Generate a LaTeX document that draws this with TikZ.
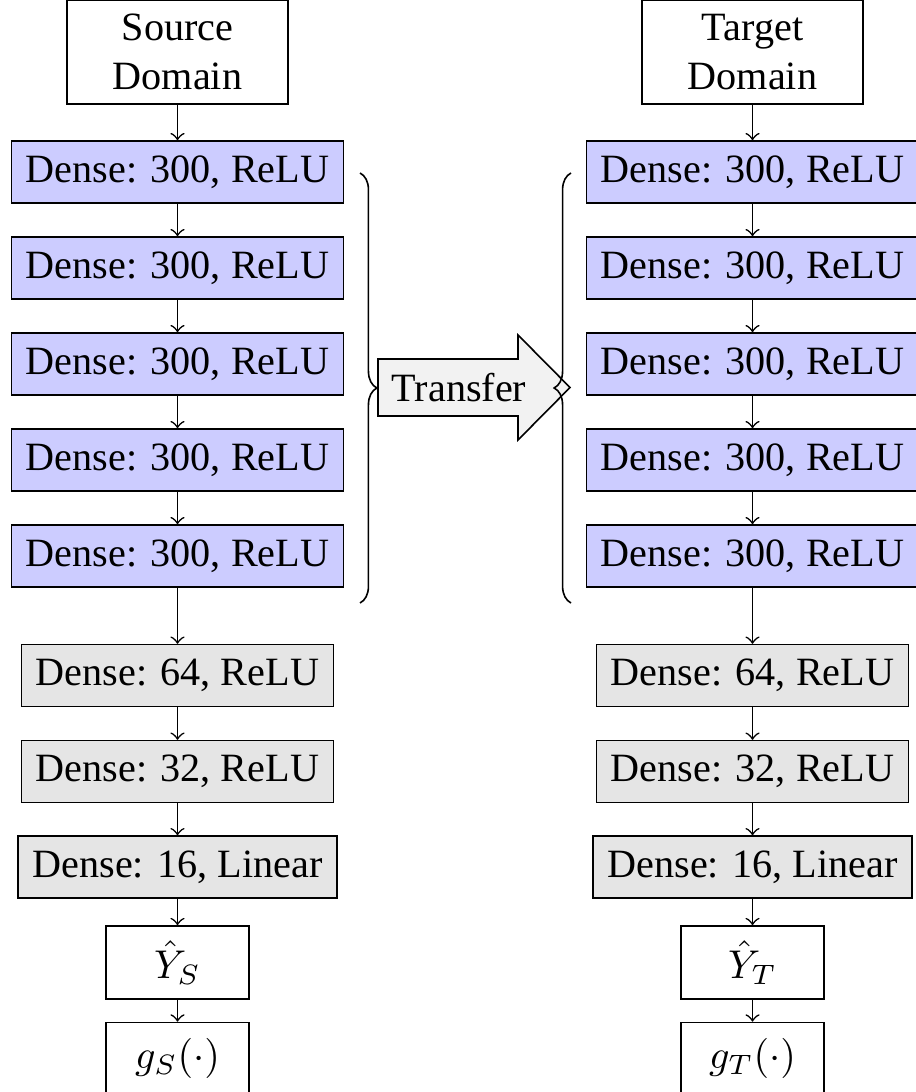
\documentclass[tikz,border=0pt]{standalone}
\usepackage{fontspec}
\setmainfont{Liberation Serif}
\usetikzlibrary{decorations.pathreplacing,calc}

\begin{document}
\begin{tikzpicture}[x=0.249pt,y=-0.249pt,
  box/.style={draw, line width=0.4pt, inner sep=3.6pt},
  domainbox/.style={box, align=center, minimum width=55pt, minimum height=25.9pt},
  sharedbox/.style={box, fill=blue!20, minimum height=15pt},
  headbox/.style={box, fill=gray!20, minimum height=15pt},
  outbox/.style={box, minimum width=35.6pt, minimum height=17.7pt},
  flow/.style={->, line width=0.4pt},
  bracket/.style={decorate, decoration={brace, amplitude=4.2pt}, line width=0.4pt},
]
\useasboundingbox (0,0) rectangle (915,1092);

% source network
\node[domainbox] (src) at (177.5,52) {Source\\Domain};
\foreach \i/\y in {1/172,2/268,3/364,4/460,5/556}
  \node[sharedbox] (s\i) at (177.5,\y) {Dense: 300, ReLU};
\node[headbox] (sa) at (177.5,675.5) {Dense: 64, ReLU};
\node[headbox] (sb) at (177.5,771.5) {Dense: 32, ReLU};
\node[headbox] (sc) at (177.5,867) {Dense: 16, Linear};
\node[outbox] (sy) at (177.5,962.5) {$\hat{Y}_S$};
\node[outbox] (sg) at (177.5,1058) {$g_S(\cdot)$};

% target network
\node[domainbox] (tgt) at (752.5,52) {Target\\Domain};
\foreach \i/\y in {1/172,2/268,3/364,4/460,5/556}
  \node[sharedbox] (t\i) at (752.5,\y) {Dense: 300, ReLU};
\node[headbox] (ta) at (752.5,675.5) {Dense: 64, ReLU};
\node[headbox] (tb) at (752.5,771.5) {Dense: 32, ReLU};
\node[headbox] (tc) at (752.5,867) {Dense: 16, Linear};
\node[outbox] (ty) at (752.5,962.5) {$\hat{Y}_T$};
\node[outbox] (tg) at (752.5,1058) {$g_T(\cdot)$};

% connectors
\foreach \p in {s,t} {
  \draw[flow] (\p1) -- (\p2);
  \draw[flow] (\p2) -- (\p3);
  \draw[flow] (\p3) -- (\p4);
  \draw[flow] (\p4) -- (\p5);
  \draw[flow] (\p5) -- (\p a);
  \draw[flow] (\p a) -- (\p b);
  \draw[flow] (\p b) -- (\p c);
  \draw[flow] (\p c) -- (\p y);
  \draw[flow] (\p y) -- (\p g);
}
\draw[flow] (src) -- (s1);
\draw[flow] (tgt) -- (t1);

% transfer arrow
\draw[fill=gray!10, line width=0.4pt]
  (378,359) -- (518,359) -- (518,335) -- (570,387.5) -- (518,440) -- (518,416) -- (378,416) -- cycle;
\node (xfer) at (459,387.5) {Transfer};

% braces around the shared layers
\draw[bracket] (360,173) -- (360,603);
\draw[bracket] (571,603) -- (571,173);
\end{tikzpicture}
\end{document}
